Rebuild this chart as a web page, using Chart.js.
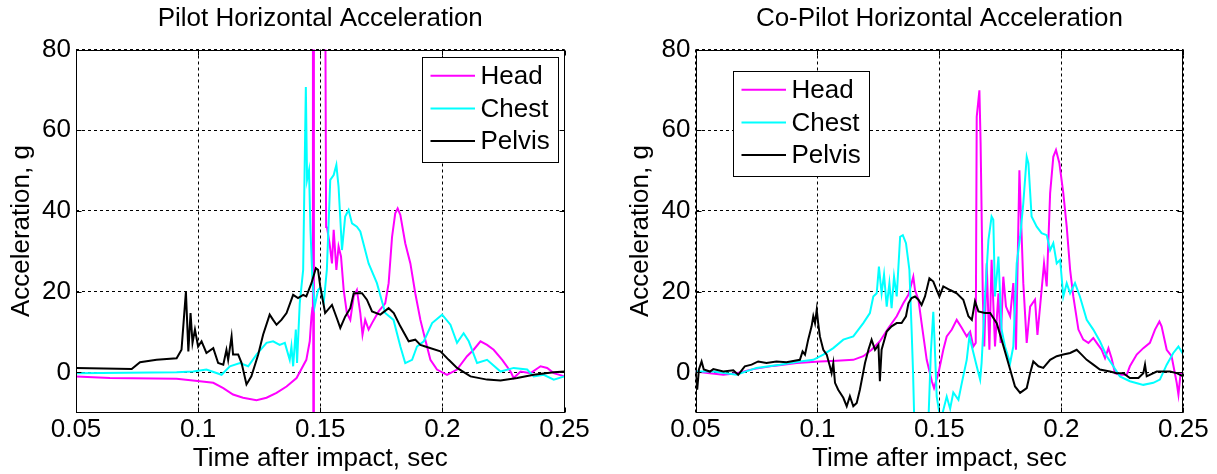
<!DOCTYPE html>
<html><head><meta charset="utf-8">
<script src="https://cdn.jsdelivr.net/npm/chart.js@4.4.0/dist/chart.umd.min.js"></script>
<style>
html,body{margin:0;padding:0;background:#fff;}
#wrap{position:relative;width:1217px;height:474px;overflow:hidden;background:#fff;}
canvas{position:absolute;top:0;}
</style></head><body>
<div id="wrap"><canvas id="c1" width="608" height="474" style="left:0px"></canvas><canvas id="c2" width="598" height="474" style="left:619px"></canvas></div>
<script>
// ---- tick labels ----
const xTickValues = [0.05, 0.1, 0.15, 0.2, 0.25];
const xTickLabels = ['0.05', '0.1', '0.15', '0.2', '0.25'];
const yTickValues = [0, 20, 40, 60, 80];
const yTickLabels = ['0', '20', '40', '60', '80'];
const seriesNames = ['Head', 'Chest', 'Pelvis'];
const panelTitles = ['Pilot Horizontal Acceleration', 'Co-Pilot Horizontal Acceleration'];

// ---- Pilot: [time s, acceleration g] ----
const pilotHead = [[0.05,-1.0],[0.0639,-1.4],[0.0912,-1.6],[0.1007,-2.2],[0.1062,-2.6],[0.1103,-3.9],[0.1143,-5.5],[0.1184,-6.3],[0.1239,-6.9],[0.128,-6.3],[0.1321,-5.1],[0.1362,-3.5],[0.1403,-1.4],[0.1443,3.1],[0.1457,7.7],[0.1464,13.9],[0.1468,16],[0.147,120],[0.1472,-40],[0.1474,120],[0.15,120],[0.1519,120],[0.1524,36],[0.1527,36.1],[0.1538,32],[0.1548,27],[0.1555,35.3],[0.1566,25.4],[0.1575,31.2],[0.1585,28.7],[0.1596,20.4],[0.1609,14.7],[0.1623,13.0],[0.1637,18.8],[0.165,20.4],[0.1664,14.7],[0.1673,9.3],[0.1684,13.0],[0.1698,10.6],[0.1712,12.2],[0.1739,15.1],[0.1766,17.1],[0.178,22.1],[0.1794,33.6],[0.1807,39.4],[0.1817,40.6],[0.1828,39.0],[0.1848,32.0],[0.1869,27.0],[0.1889,19.6],[0.191,13.0],[0.193,8.1],[0.1951,3.1],[0.1978,0.7],[0.2019,-0.6],[0.206,0.7],[0.2101,4.0],[0.2128,5.6],[0.2156,7.7],[0.2183,6.8],[0.221,5.6],[0.2245,3.1],[0.2279,0.2],[0.2292,-1.4],[0.232,0.2],[0.2361,-0.2],[0.2402,1.5],[0.2429,1.1],[0.2456,-0.2],[0.25,-1.0]];
const pilotChest = [[0.05,-0.2],[0.0912,0],[0.098,0.2],[0.1034,0.7],[0.1096,-0.6],[0.113,1.5],[0.1171,2.3],[0.1205,1.5],[0.1239,4.4],[0.128,7.3],[0.1307,7.7],[0.1334,6.8],[0.1355,7.3],[0.1375,3.1],[0.1382,6.4],[0.1389,1.5],[0.14,10.6],[0.1405,2.3],[0.1416,17.1],[0.143,25.4],[0.1441,70.7],[0.1446,47.7],[0.1454,50.1],[0.146,35.3],[0.1468,22.9],[0.1477,16.3],[0.1491,20.4],[0.15,21],[0.1514,17.1],[0.1527,25.4],[0.1541,47.7],[0.1555,48.9],[0.1566,51.4],[0.1575,46.0],[0.1589,30.3],[0.1602,38.6],[0.1616,40.2],[0.163,36.9],[0.165,36.1],[0.1664,34.9],[0.1698,27.0],[0.1732,22.1],[0.1766,14.7],[0.18,13.0],[0.1828,6.4],[0.1848,2.3],[0.1876,3.1],[0.1896,6.4],[0.1924,7.7],[0.1958,12.2],[0.1999,14.3],[0.2033,11.8],[0.206,7.3],[0.2087,9.7],[0.2108,7.7],[0.2142,2.3],[0.2183,3.1],[0.2238,0.2],[0.2292,1.1],[0.2347,0.7],[0.2374,-1.0],[0.2415,-0.6],[0.2456,-1.8],[0.25,-1.0]];
const pilotPelvis = [[0.05,1.1],[0.0728,0.8],[0.0762,2.5],[0.083,3.1],[0.0912,3.5],[0.0932,5.6],[0.095,20],[0.096,5.2],[0.0969,14.7],[0.0977,7.3],[0.0987,10.6],[0.1,6.4],[0.1014,7.7],[0.1034,4.8],[0.1062,6.0],[0.1082,2.3],[0.1103,1.9],[0.1116,5.6],[0.1123,3.1],[0.1137,8.9],[0.1143,4.4],[0.1164,4.4],[0.1178,2.3],[0.1198,-3.0],[0.1218,-1.0],[0.1246,4.4],[0.1266,9.3],[0.1293,14.3],[0.1307,13.0],[0.1321,11.8],[0.1341,13.0],[0.1362,14.7],[0.1389,19.2],[0.1409,18.4],[0.143,19.2],[0.1443,18.8],[0.1464,22.1],[0.1482,25.8],[0.1491,25.4],[0.15,21.3],[0.152,14.7],[0.1548,16.7],[0.1568,13.4],[0.1582,11.0],[0.1602,13.8],[0.1623,15.9],[0.1637,19.6],[0.1671,19.6],[0.1691,18.0],[0.1712,15.1],[0.1746,14.3],[0.178,15.9],[0.1801,14.7],[0.1828,11.4],[0.1862,7.7],[0.1889,8.1],[0.191,6.8],[0.193,6.4],[0.1992,5.2],[0.2026,3.1],[0.206,1.1],[0.2115,-1.0],[0.2183,-1.8],[0.2238,-2.0],[0.2306,-1.4],[0.2374,-0.6],[0.2456,0],[0.25,0.2]];

// ---- Co-Pilot: [time s, acceleration g] ----
const copilotHead = [[0.05,0.2],[0.0559,-0.2],[0.0614,-0.6],[0.0668,-0.2],[0.0737,0.8],[0.0819,1.6],[0.0915,2.3],[0.101,2.7],[0.1079,2.9],[0.1147,3.1],[0.1188,4.0],[0.1222,5.6],[0.1256,7.7],[0.1291,11.0],[0.1325,13.9],[0.1352,17.1],[0.1373,19.2],[0.1386,22.1],[0.1393,23.7],[0.14,20.4],[0.1414,18.0],[0.1427,12.2],[0.1448,3.1],[0.1469,-2.2],[0.1478,-3.9],[0.1496,-0.2],[0.1516,5.6],[0.153,8.9],[0.1551,10.6],[0.1571,13.0],[0.1592,11.0],[0.1612,8.9],[0.1626,10.1],[0.1639,6.4],[0.1649,7.3],[0.1653,63.3],[0.1664,69.9],[0.1669,56.7],[0.1678,18.8],[0.1684,6.4],[0.1694,27.0],[0.1705,5.6],[0.1714,27.9],[0.1728,6.4],[0.1742,19.6],[0.1751,7.3],[0.1762,23.7],[0.1773,16.3],[0.179,13.9],[0.1803,22.1],[0.1814,5.6],[0.1828,50.1],[0.1833,41.1],[0.1844,22.1],[0.1858,7.3],[0.1872,16.3],[0.1892,18.0],[0.1902,9.3],[0.1919,20.4],[0.1929,27.0],[0.194,21.3],[0.1954,44.4],[0.1967,53.4],[0.1978,55.1],[0.1992,51.8],[0.2008,44.4],[0.2022,36.1],[0.2036,25.4],[0.2049,18.8],[0.207,10.6],[0.209,8.1],[0.2111,7.3],[0.2131,8.5],[0.2145,7.3],[0.2165,5.6],[0.2179,3.5],[0.2193,6.0],[0.2206,3.5],[0.222,-0.2],[0.224,-0.6],[0.2268,-0.6],[0.2281,1.5],[0.2309,4.4],[0.2336,6.0],[0.2363,7.3],[0.2384,10.6],[0.2402,12.6],[0.2411,11.4],[0.2432,5.6],[0.2452,4.0],[0.2473,-2.6],[0.248,-5.5],[0.2489,-0.2],[0.25,-0.2]];
const copilotChest = [[0.05,0.2],[0.0573,0.2],[0.0668,-0.6],[0.075,1.1],[0.0846,1.9],[0.0928,2.7],[0.0983,3.1],[0.1024,4.4],[0.1065,6.0],[0.1106,8.1],[0.1147,8.9],[0.1188,12.2],[0.1215,14.7],[0.1229,18.8],[0.1243,19.6],[0.1252,26.2],[0.1263,19.6],[0.1273,24.2],[0.1284,16.3],[0.1295,22.1],[0.1304,15.9],[0.1314,23.7],[0.1325,18.8],[0.1339,33.6],[0.135,34.0],[0.1363,32.0],[0.1377,25.4],[0.1386,10.6],[0.1392,0],[0.1397,-12],[0.1405,-20],[0.144,-20],[0.1455,-12],[0.1465,5],[0.1475,15],[0.148,8],[0.1489,-6],[0.1505,-12],[0.153,-6],[0.1544,-9],[0.1557,-5],[0.1578,-6.8],[0.1592,-2.6],[0.1612,3.1],[0.1623,8.9],[0.1633,6.4],[0.1653,1.5],[0.1667,-1.8],[0.1673,2.3],[0.1687,18.8],[0.1701,32.8],[0.1714,38.6],[0.1721,37.8],[0.1728,18.8],[0.1742,28.7],[0.1755,10.6],[0.1769,6.4],[0.179,2.3],[0.1803,6.4],[0.1817,27.0],[0.1831,33.6],[0.1844,41.9],[0.1858,53.4],[0.1865,51.8],[0.1878,38.6],[0.1899,36.1],[0.1919,34.5],[0.194,34.0],[0.1954,30.3],[0.1967,32.0],[0.1981,27.0],[0.1995,27.9],[0.2008,18.8],[0.2022,22.1],[0.2036,19.6],[0.2056,22.1],[0.2076,18.8],[0.2104,13.0],[0.2131,10.6],[0.2158,7.7],[0.2186,4.0],[0.2213,1.5],[0.224,-1.0],[0.2281,-2.2],[0.2336,-3.1],[0.2377,-2.6],[0.2404,-1.8],[0.2432,1.9],[0.2459,4.8],[0.248,6.4],[0.25,4.4]];
const copilotPelvis = [[0.05,0.2],[0.0507,-4.3],[0.0514,0.7],[0.0525,2.7],[0.0534,0.7],[0.0559,0.2],[0.0573,0.8],[0.0614,0.2],[0.0655,0.5],[0.0675,-0.6],[0.0702,1.5],[0.073,1.9],[0.0757,2.7],[0.0791,2.3],[0.0832,2.7],[0.0873,2.5],[0.0928,3.1],[0.0939,5.2],[0.0949,4.4],[0.0962,8.1],[0.0976,11.4],[0.0983,13.9],[0.099,12.2],[0.0997,15.5],[0.1003,12.2],[0.101,8.9],[0.1024,5.6],[0.1038,4.4],[0.1051,1.5],[0.1058,-0.2],[0.1065,2.3],[0.1072,-2.6],[0.1085,-4.3],[0.1106,-6.3],[0.112,-8.4],[0.1133,-5.9],[0.1147,-8.4],[0.1161,-7.6],[0.1174,-4.3],[0.1195,2.3],[0.1209,5.6],[0.1222,8.1],[0.1236,5.6],[0.125,6.8],[0.1256,-2.2],[0.1263,5.6],[0.1284,10.1],[0.1304,11.4],[0.1325,12.2],[0.1345,12.2],[0.1363,13.9],[0.1373,17.1],[0.1386,18.4],[0.14,18.8],[0.1414,18.0],[0.1427,16.7],[0.1441,18.8],[0.1459,23.3],[0.1475,22.5],[0.1489,20.4],[0.15,18.8],[0.1516,21.3],[0.1544,20.4],[0.1571,19.6],[0.1598,18.0],[0.1619,13.9],[0.1633,13.0],[0.1646,17.6],[0.166,15.1],[0.1687,14.7],[0.1708,14.7],[0.1735,12.2],[0.1755,8.1],[0.179,0.7],[0.181,-3.5],[0.1831,-5.1],[0.1858,-3.9],[0.1872,-0.2],[0.1885,2.7],[0.1906,1.5],[0.1926,1.1],[0.1954,3.1],[0.1981,4.0],[0.2008,4.4],[0.2036,4.8],[0.2063,5.6],[0.2083,4.4],[0.2104,3.1],[0.2131,1.9],[0.2158,0.7],[0.2199,0.2],[0.2227,-0.2],[0.2254,-0.2],[0.2281,-1.4],[0.2316,-1.4],[0.2336,-0.2],[0.2343,1.9],[0.235,-1.0],[0.2391,0.2],[0.2445,0.2],[0.2473,-0.2],[0.25,-1.0]];

const seriesColors = ['#ff00ff', '#00ffff', '#000000'];
const FONT = '"Liberation Sans", Arial, Helvetica, sans-serif';
Chart.defaults.font.family = FONT;
Chart.defaults.color = '#000';

const framePlugin = {
  id: 'frame',
  afterDatasetsDraw(chart) {
    const {ctx, chartArea: a, scales} = chart;
    ctx.save();
    ctx.strokeStyle = '#000';
    ctx.lineWidth = 1;
    ctx.setLineDash([]);
    const L = Math.round(a.left) + 0.5, R = Math.round(a.right) - 0.5;
    const T = Math.round(a.top) + 0.5, B = Math.round(a.bottom) - 0.5;
    ctx.strokeRect(L, T, R - L, B - T);
    const tl = 5;
    ctx.beginPath();
    xTickValues.forEach(v => {
      const px = Math.round(scales.x.getPixelForValue(v)) + 0.5;
      ctx.moveTo(px, B); ctx.lineTo(px, B - tl);
      ctx.moveTo(px, T); ctx.lineTo(px, T + tl);
    });
    yTickValues.forEach(v => {
      const py = Math.round(scales.y.getPixelForValue(v)) + 0.5;
      ctx.moveTo(L, py); ctx.lineTo(L + tl, py);
      ctx.moveTo(R, py); ctx.lineTo(R - tl, py);
    });
    ctx.stroke();
    ctx.restore();
  }
};

const legendPlugin = {
  id: 'boxLegend',
  afterDraw(chart, args, opts) {
    const {ctx, chartArea: a} = chart;
    const bx = Math.round(a.left + opts.dx) + 0.5, by = Math.round(a.top + opts.dy) + 0.5;
    const w = 136, h = 105;
    ctx.save();
    ctx.fillStyle = '#fff';
    ctx.fillRect(bx, by, w, h);
    ctx.strokeStyle = '#000';
    ctx.lineWidth = 1;
    ctx.strokeRect(bx, by, w, h);
    ctx.font = '26px ' + FONT;
    ctx.textBaseline = 'middle';
    ctx.textAlign = 'left';
    chart.data.datasets.forEach((ds, i) => {
      const y = by + 18.3 + i * 32.6;
      ctx.strokeStyle = ds.borderColor;
      ctx.lineWidth = 2;
      ctx.beginPath();
      ctx.moveTo(bx + 8, y); ctx.lineTo(bx + 52.5, y);
      ctx.stroke();
      ctx.fillStyle = '#000';
      ctx.fillText(ds.label, bx + 58, y + 1);
    });
    ctx.restore();
  }
};

function toXY(arr) { return arr.map(p => ({x: p[0], y: p[1]})); }

function makeChart(id, title, head, chest, pelvis, yWidth, padRight, legendPos) {
  const series = [head, chest, pelvis];
  return new Chart(document.getElementById(id), {
    type: 'line',
    data: {
      datasets: series.map((s, i) => ({
        label: seriesNames[i],
        data: toXY(s),
        borderColor: seriesColors[i],
        backgroundColor: seriesColors[i],
        borderWidth: 2,
        pointRadius: 0,
        tension: 0,
        fill: false,
        order: 2 - i
      }))
    },
    options: {
      responsive: false,
      animation: false,
      devicePixelRatio: 1,
      layout: {padding: {left: 0, right: padRight, top: 0, bottom: 0}},
      plugins: {
        legend: {display: false},
        tooltip: {enabled: false},
        title: {
          display: true, text: title, fullSize: false, color: '#000',
          font: {size: 26, weight: 'normal', lineHeight: 1.2},
          padding: {top: 3.6, bottom: 14.7}
        },
        boxLegend: legendPos
      },
      scales: {
        x: {
          type: 'linear', min: 0.05, max: 0.25,
          afterBuildTicks: s => { s.ticks = xTickValues.map(v => ({value: v})); },
          afterFit: s => { s.height = 61.3; },
          ticks: {padding: 2, maxRotation: 0, autoSkip: false, color: '#000', font: {size: 26},
                  callback: (v, i) => xTickLabels[i]},
          grid: {color: '#000', lineWidth: 1, drawTicks: false},
          border: {display: false, dash: [3, 3]},
          title: {display: true, text: 'Time after impact, sec', color: '#000', font: {size: 26},
                  padding: {top: 0, bottom: 0}}
        },
        y: {
          type: 'linear', min: -10, max: 80,
          afterBuildTicks: s => { s.ticks = yTickValues.map(v => ({value: v})); },
          afterFit: s => { s.width = yWidth; },
          ticks: {padding: 5, color: '#000', font: {size: 26}, callback: (v, i) => yTickLabels[i]},
          grid: {color: '#000', lineWidth: 1, drawTicks: false},
          border: {display: false, dash: [3, 3]},
          title: {display: true, text: 'Acceleration, g', color: '#000', font: {size: 26},
                  padding: {top: 6, bottom: 0}}
        }
      }
    },
    plugins: [framePlugin, legendPlugin]
  });
}

makeChart('c1', panelTitles[0], pilotHead, pilotChest, pilotPelvis, 76, 43.5, {dx: 345.7, dy: 7.2});
makeChart('c2', panelTitles[1], copilotHead, copilotChest, copilotPelvis, 76.5, 33.7, {dx: 37.2, dy: 21.2});
</script>
</body></html>
